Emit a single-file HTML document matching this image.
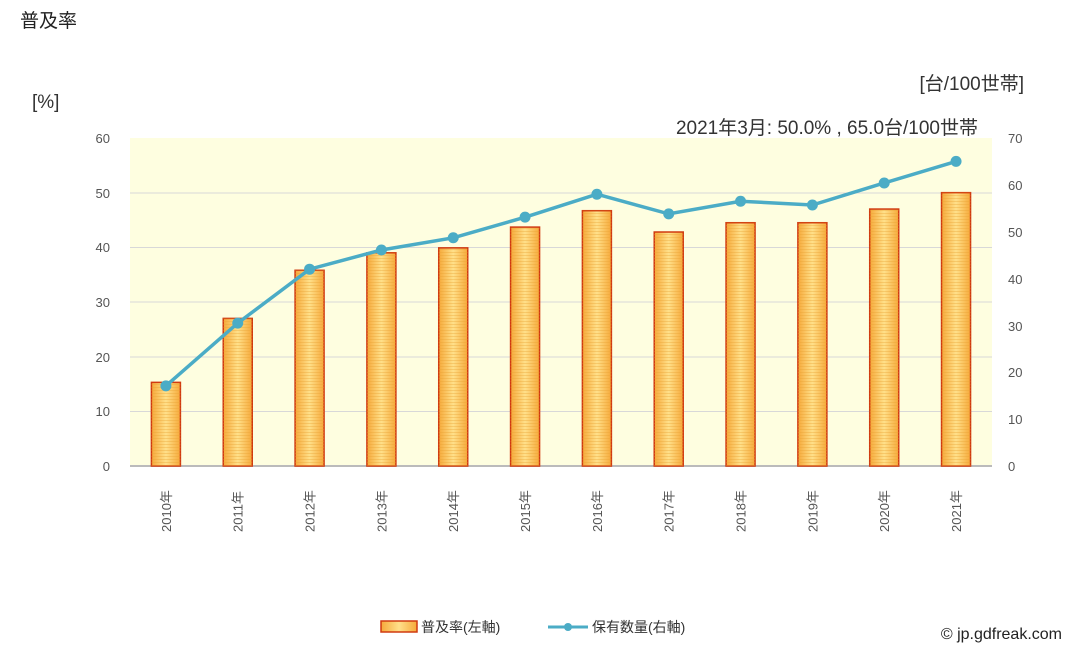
<!DOCTYPE html>
<html><head><meta charset="utf-8"><style>
body{margin:0;background:#fff;}
svg text{font-family:"Liberation Sans","Noto Sans CJK JP",sans-serif;}
</style></head><body>
<svg width="1080" height="654" xmlns="http://www.w3.org/2000/svg">
<defs>
<linearGradient id="g" x1="0" x2="1" y1="0" y2="0">
<stop offset="0" stop-color="#f6a93a"/><stop offset="0.5" stop-color="#ffe08a"/><stop offset="1" stop-color="#f6a93a"/>
</linearGradient>
<pattern id="h" width="4" height="3" patternUnits="userSpaceOnUse"><rect width="4" height="1" fill="#e8a030" opacity="0.35"/></pattern>
</defs>
<text x="20" y="27" font-size="19" fill="#222">普及率</text>
<text x="32" y="108" font-size="19" fill="#333">[%]</text>
<text x="1024" y="90" font-size="19" fill="#333" text-anchor="end">[台/100世帯]</text>
<rect x="130" y="138" width="862" height="328" fill="#fefee0"/>
<g stroke="#d8d8d8" stroke-width="1">
<line x1="130" x2="992" y1="193" y2="193"/><line x1="130" x2="992" y1="247.5" y2="247.5"/>
<line x1="130" x2="992" y1="302" y2="302"/><line x1="130" x2="992" y1="357" y2="357"/>
<line x1="130" x2="992" y1="411.5" y2="411.5"/>
</g>
<line x1="130" x2="992" y1="466" y2="466" stroke="#bbb" stroke-width="2"/>
<g font-size="13" fill="#555" text-anchor="end">
<text x="110" y="143">60</text><text x="110" y="198">50</text><text x="110" y="252">40</text>
<text x="110" y="307">30</text><text x="110" y="362">20</text><text x="110" y="416">10</text><text x="110" y="471">0</text>
</g>
<g font-size="13" fill="#555">
<text x="1008" y="143">70</text><text x="1008" y="190">60</text><text x="1008" y="237">50</text>
<text x="1008" y="284">40</text><text x="1008" y="331">30</text><text x="1008" y="377">20</text>
<text x="1008" y="424">10</text><text x="1008" y="471">0</text>
</g>
<text x="978" y="134" font-size="19" fill="#333" text-anchor="end">2021年3月: 50.0% , 65.0台/100世帯</text>
<g id="bars" stroke="#d03a10" stroke-width="1.5"></g>
<g id="lbl" font-size="13" fill="#555"></g>
<polyline id="ln" fill="none" stroke="#4bacc6" stroke-width="3.5"/>
<g id="dots" fill="#4bacc6"></g>
<rect x="381" y="621" width="36" height="11" fill="url(#g)" stroke="#d03a10" stroke-width="1.5"/>
<text x="421" y="632" font-size="14" fill="#333">普及率(左軸)</text>
<line x1="548" x2="588" y1="627" y2="627" stroke="#4bacc6" stroke-width="3"/>
<circle cx="568" cy="627" r="4" fill="#4bacc6"/>
<text x="592" y="632" font-size="14" fill="#333">保有数量(右軸)</text>
<text x="1062" y="639" font-size="16" fill="#222" text-anchor="end">© jp.gdfreak.com</text>
<script>
var b=[15.3,27,35.8,39,39.9,43.7,46.7,42.8,44.5,44.5,47,50.0];
var l=[17.1,30.5,42.0,46.1,48.7,53.1,58.0,53.8,56.5,55.7,60.4,65.0];
var ns="http://www.w3.org/2000/svg",pts=[];
for(var i=0;i<12;i++){
 var cx=130+71.83*(i+0.5);
 var y=466-b[i]*5.467;
 ['url(#g)','url(#h)'].forEach(function(f,k){
  var r=document.createElementNS(ns,'rect');
  r.setAttribute('x',cx-14.5);r.setAttribute('y',y);r.setAttribute('width',29);r.setAttribute('height',466-y);
  r.setAttribute('fill',f);if(k)r.setAttribute('stroke','none');
  document.getElementById('bars').appendChild(r);});
 var ly=466-l[i]*4.686;pts.push(cx+','+ly);
 var c=document.createElementNS(ns,'circle');c.setAttribute('cx',cx);c.setAttribute('cy',ly);c.setAttribute('r',5.5);
 document.getElementById('dots').appendChild(c);
 var t=document.createElementNS(ns,'text');t.setAttribute('transform','translate('+(cx+5)+',532) rotate(-90)');
 t.textContent=(2010+i)+'年';document.getElementById('lbl').appendChild(t);
}
document.getElementById('ln').setAttribute('points',pts.join(' '));
</script>
</svg>
</body></html>
